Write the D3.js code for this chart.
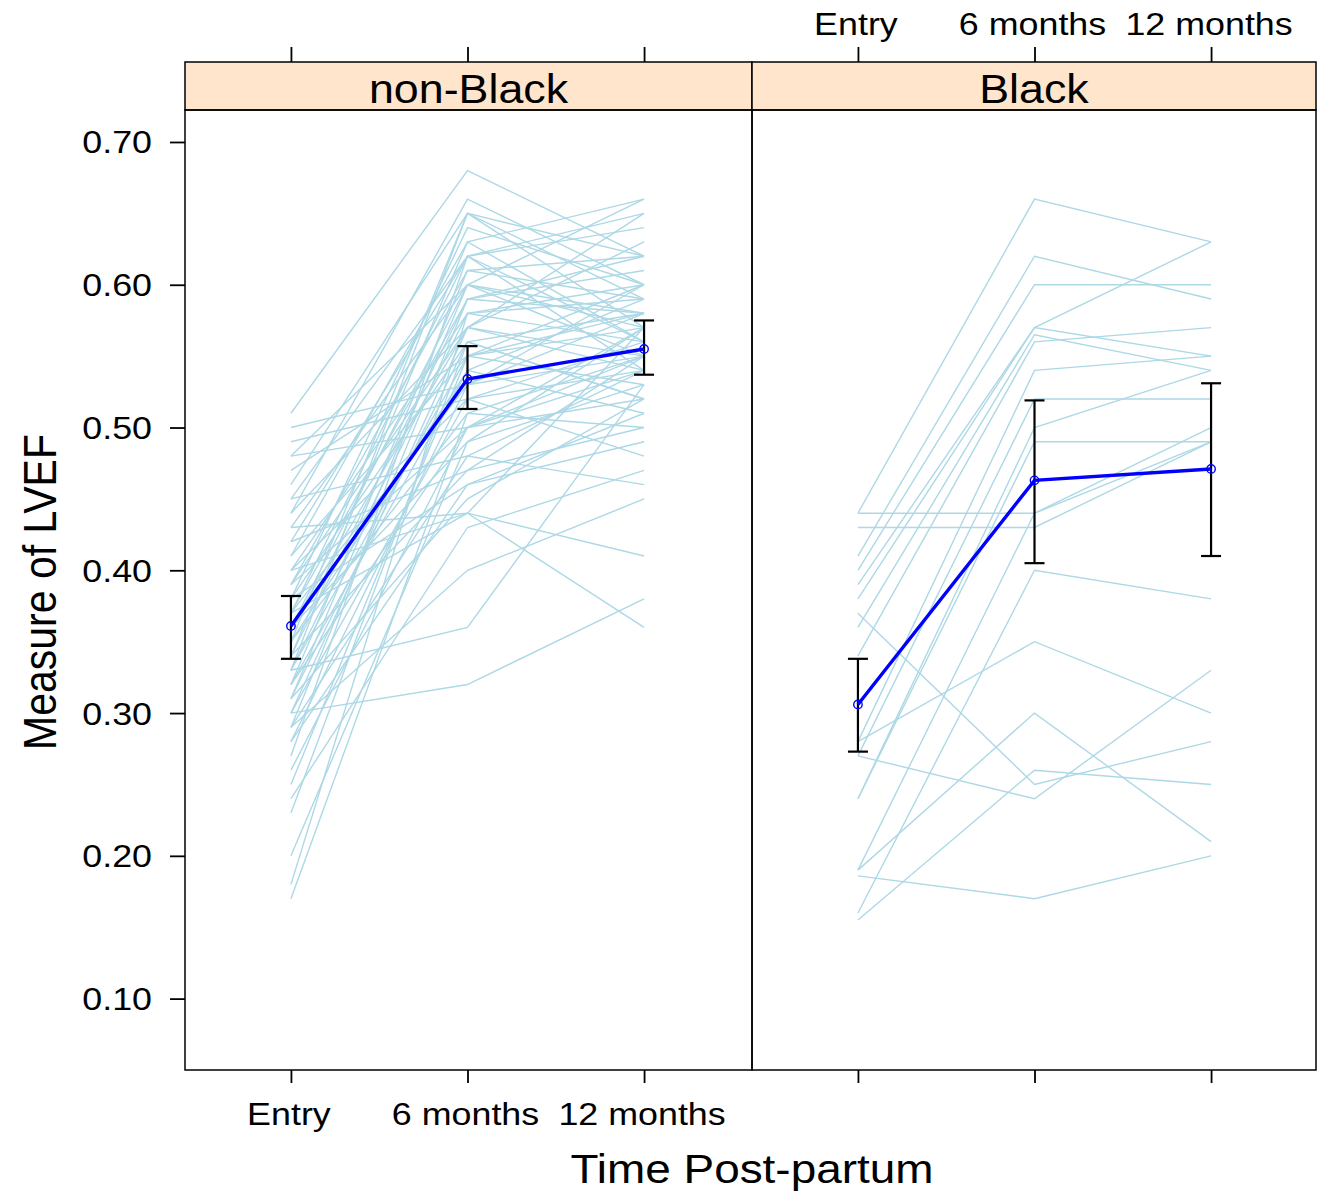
<!DOCTYPE html>
<html><head><meta charset="utf-8">
<script src="https://cdn.jsdelivr.net/npm/d3@7"></script>
<style>body{margin:0;background:#fff}svg{display:block}text{font-family:"Liberation Sans",Arial,sans-serif;fill:#000}</style>
</head><body>
<svg id="chart" width="1317" height="1192"></svg>
<script>
const timeLabels = ["Entry", "6 months", "12 months"];
const panels = ["non-Black", "Black"];
const yTicks = [0.10, 0.20, 0.30, 0.40, 0.50, 0.60, 0.70];

// individual trajectories [Entry, 6 months, 12 months]
const nonBlackSubjects = [
  [0.51,0.68,0.62],[0.50,0.53,0.55],[0.49,0.52,0.48],[0.48,0.60,0.66],[0.48,0.50,0.52],
  [0.47,0.55,0.60],[0.46,0.65,0.62],[0.45,0.48,0.46],[0.44,0.57,0.55],[0.43,0.44,0.41],
  [0.43,0.60,0.58],[0.42,0.62,0.64],[0.42,0.47,0.50],[0.41,0.55,0.57],[0.41,0.63,0.56],
  [0.40,0.58,0.60],[0.40,0.52,0.54],[0.40,0.44,0.36],[0.39,0.61,0.59],[0.39,0.50,0.55],
  [0.38,0.64,0.60],[0.38,0.56,0.52],[0.38,0.46,0.49],[0.37,0.59,0.62],[0.37,0.53,0.58],
  [0.37,0.62,0.54],[0.36,0.57,0.65],[0.36,0.49,0.53],[0.36,0.60,0.57],[0.35,0.54,0.59],
  [0.35,0.65,0.57],[0.35,0.51,0.50],[0.34,0.59,0.61],[0.34,0.47,0.55],[0.34,0.63,0.66],
  [0.33,0.55,0.53],[0.33,0.36,0.53],[0.33,0.58,0.56],[0.32,0.50,0.57],[0.32,0.61,0.62],
  [0.32,0.54,0.51],[0.31,0.56,0.58],[0.31,0.45,0.52],[0.31,0.60,0.55],[0.30,0.32,0.38],
  [0.30,0.57,0.63],[0.30,0.52,0.56],[0.29,0.48,0.54],[0.29,0.59,0.58],[0.28,0.53,0.60],
  [0.28,0.46,0.51],[0.27,0.62,0.56],[0.26,0.50,0.54],[0.25,0.55,0.58],[0.24,0.43,0.47],
  [0.23,0.56,0.52],[0.20,0.49,0.57],[0.18,0.58,0.59],[0.17,0.51,0.55],[0.44,0.66,0.60],
  [0.45,0.62,0.65],[0.37,0.44,0.57],[0.29,0.40,0.45],[0.33,0.65,0.59],[0.39,0.57,0.54]
];
const blackSubjects = [
  [0.44,0.66,0.63],[0.41,0.62,0.59],[0.40,0.60,0.60],[0.39,0.57,0.63],[0.38,0.57,0.55],
  [0.36,0.565,0.54],[0.43,0.43,0.49],[0.34,0.56,0.57],[0.28,0.54,0.55],[0.27,0.52,0.52],
  [0.24,0.50,0.54],[0.24,0.49,0.49],[0.19,0.44,0.50],[0.16,0.40,0.38],[0.28,0.35,0.30],
  [0.19,0.30,0.21],[0.37,0.25,0.28],[0.27,0.24,0.33],[0.155,0.26,0.25],[0.186,0.17,0.20],
  [0.44,0.44,0.49]
];

// group means and confidence limits
const nonBlackMean  = [0.361, 0.534, 0.555];
const nonBlackLower = [0.338, 0.513, 0.537];
const nonBlackUpper = [0.382, 0.557, 0.575];
const blackMean  = [0.306, 0.463, 0.471];
const blackLower = [0.273, 0.405, 0.410];
const blackUpper = [0.338, 0.519, 0.531];

const panelData = [
  {name: panels[0], subjects: nonBlackSubjects, mean: nonBlackMean, lo: nonBlackLower, hi: nonBlackUpper},
  {name: panels[1], subjects: blackSubjects, mean: blackMean, lo: blackLower, hi: blackUpper}
];

const svg = d3.select("#chart");
const plotTop = 110, plotBottom = 1070, stripTop = 62;
const panelX = [185, 752], panelRight = [752, 1316], panelW = 565;
const SX = 1.12; // horizontal glyph stretch seen in the reference

function label(x, y, str, size, anchor, rot) {
  svg.append("text")
    .attr("transform", `translate(${x},${y}) scale(${SX},1)` + (rot ? ` rotate(${rot})` : ""))
    .attr("text-anchor", anchor || "middle").attr("font-size", size).text(str);
}

const y = d3.scaleLinear().domain([0.05, 0.7224]).range([plotBottom, plotTop]);

panelData.forEach((p, i) => {
  const x0 = panelX[i], x1 = panelRight[i];
  const x = d3.scaleLinear().domain([0.4, 3.6]).range([x0, x0 + panelW]);
  const g = svg.append("g");

  const line = d3.line().x((d, k) => x(k + 1)).y(d => y(d));
  g.selectAll("path.subj").data(p.subjects).enter().append("path")
    .attr("d", line).attr("fill", "none").attr("stroke", "#ADD8E6").attr("stroke-width", 1.4);

  [0,1,2].forEach(k => {
    const cx = x(k + 1);
    g.append("line").attr("x1", cx).attr("x2", cx).attr("y1", y(p.lo[k])).attr("y2", y(p.hi[k]))
      .attr("stroke", "#000").attr("stroke-width", 2.2);
    [p.lo[k], p.hi[k]].forEach(v => g.append("line").attr("x1", cx - 10).attr("x2", cx + 10)
      .attr("y1", y(v)).attr("y2", y(v)).attr("stroke", "#000").attr("stroke-width", 2.2));
  });

  g.append("path").datum(p.mean).attr("d", line).attr("fill", "none")
    .attr("stroke", "#0000FF").attr("stroke-width", 3.4);
  g.selectAll("circle.m").data(p.mean).enter().append("circle")
    .attr("cx", (d, k) => x(k + 1)).attr("cy", d => y(d)).attr("r", 4.2)
    .attr("fill", "none").attr("stroke", "#0000FF").attr("stroke-width", 1.4);

  svg.append("rect").attr("x", x0).attr("y", stripTop).attr("width", x1 - x0).attr("height", plotTop - stripTop)
    .attr("fill", "#FFE5CC").attr("stroke", "#000").attr("stroke-width", 1.5);
  label((x0 + x1) / 2, 103, p.name, 40);

  svg.append("rect").attr("x", x0).attr("y", plotTop).attr("width", x1 - x0).attr("height", plotBottom - plotTop)
    .attr("fill", "none").attr("stroke", "#000").attr("stroke-width", 1.5);

  const bottom = d3.axisBottom(x).tickValues([1,2,3]).tickSize(13).tickFormat("");
  const ga = svg.append("g").attr("transform", `translate(0,${plotBottom})`).call(bottom);
  const top = d3.axisTop(x).tickValues([1,2,3]).tickSize(15).tickFormat("");
  const gt = svg.append("g").attr("transform", `translate(0,${stripTop})`).call(top);
  [ga, gt].forEach(a => {
    a.select(".domain").remove();
    a.selectAll(".tick line").attr("stroke", "#000").attr("stroke-width", 1.8);
  });
  [1,2,3].forEach(v => {
    if (i === 0) label(x(v) - 2, 1125, timeLabels[v - 1], 32);
    else label(x(v) - 2, 35, timeLabels[v - 1], 32);
  });
});

// y axis
const ya = d3.axisLeft(y).tickValues(yTicks).tickSize(15).tickFormat("");
const gy = svg.append("g").attr("transform", `translate(${panelX[0]},0)`).call(ya);
gy.select(".domain").remove();
gy.selectAll(".tick line").attr("stroke", "#000").attr("stroke-width", 1.8);
yTicks.forEach(v => label(152, y(v) + 11.5, d3.format(".2f")(v), 32, "end"));

// titles
label(752, 1183, "Time Post-partum", 41);
label(56, 592, "Measure of LVEF", 41, "middle", -90);
</script>
</body></html>
